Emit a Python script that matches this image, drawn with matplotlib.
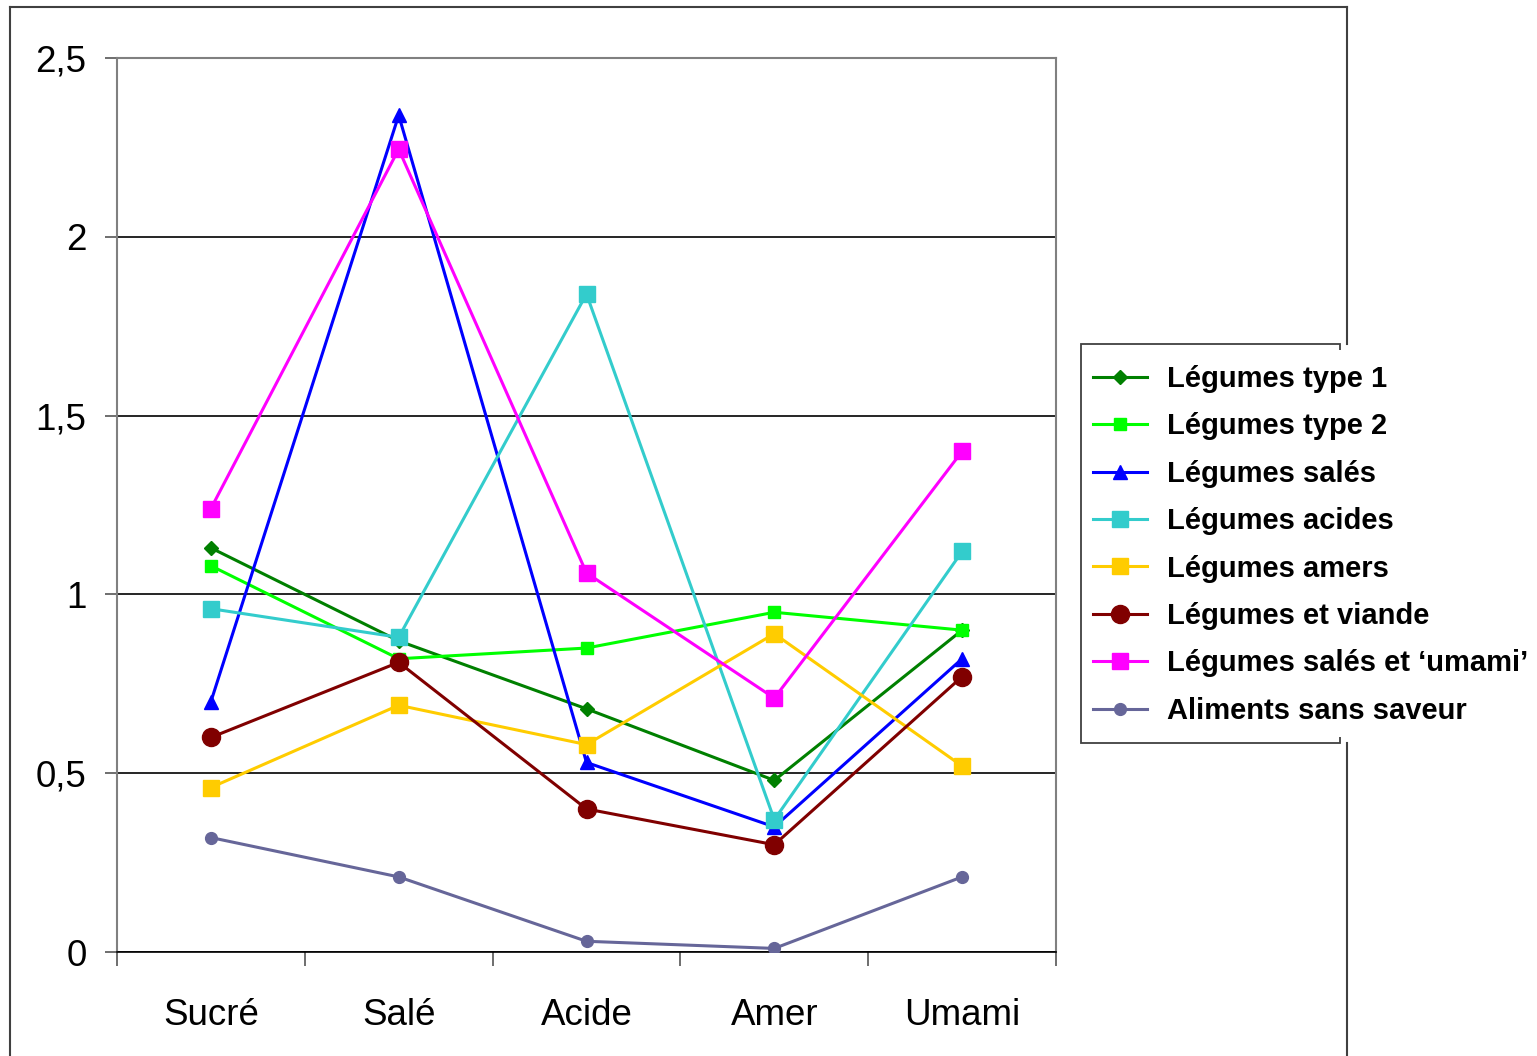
import numpy as np
import matplotlib
matplotlib.use("Agg")
import matplotlib.pyplot as plt
from matplotlib.lines import Line2D
from matplotlib.patches import Rectangle

plt.rcParams['font.family'] = ['Liberation Sans', 'DejaVu Sans']

categories = ['Sucré', 'Salé', 'Acide', 'Amer', 'Umami']

legumes_type1 = [1.13, 0.87, 0.68, 0.48, 0.90]
legumes_type2 = [1.08, 0.82, 0.85, 0.95, 0.90]
legumes_sales = [0.70, 2.34, 0.53, 0.35, 0.82]
legumes_acides = [0.96, 0.88, 1.84, 0.37, 1.12]
legumes_amers = [0.46, 0.69, 0.58, 0.89, 0.52]
legumes_viande = [0.60, 0.81, 0.40, 0.30, 0.77]
legumes_umami = [1.24, 2.245, 1.06, 0.71, 1.40]
sans_saveur = [0.32, 0.21, 0.03, 0.01, 0.21]

y_ticks = [0, 0.5, 1, 1.5, 2, 2.5]
y_ticklabels = ['0', '0,5', '1', '1,5', '2', '2,5']

series = [
    ('Légumes type 1', legumes_type1, '#008000', 'D', 7),
    ('Légumes type 2', legumes_type2, '#00FF00', 's', 8),
    ('Légumes salés', legumes_sales, '#0000FF', '^', 10),
    ('Légumes acides', legumes_acides, '#33CCCC', 's', 12),
    ('Légumes amers', legumes_amers, '#FFCC00', 's', 12),
    ('Légumes et viande', legumes_viande, '#800000', 'o', 13),
    ('Légumes salés et \u2018umami\u2019', legumes_umami, '#FF00FF', 's', 12),
    ('Aliments sans saveur', sans_saveur, '#666699', 'o', 8.5),
]

fig = plt.figure(figsize=(15.37, 10.56), dpi=100)
ax = fig.add_axes([117 / 1537, 104 / 1056, 939 / 1537, 894 / 1056])

x = np.arange(len(categories)) + 0.5
handles = []
for label, vals, color, marker, ms in series:
    h, = ax.plot(x, vals, color=color, marker=marker, markersize=ms,
                 linewidth=2.2, label=label, zorder=3)
    handles.append(h)

ax.set_xlim(0, len(categories))
ax.set_ylim(0, 2.5)
ax.set_yticks(y_ticks)
ax.set_yticklabels(y_ticklabels, fontsize=26.5)
ax.yaxis.grid(True, color='black', linewidth=1.2)
ax.set_axisbelow(True)

ax.set_xticks(np.arange(len(categories) + 1))
ax.set_xticklabels([])
ax.set_xticks(x, minor=True)
ax.set_xticklabels(categories, minor=True, fontsize=26.5)
ax.tick_params(axis='x', which='major', length=10, width=1.2, color='#555555')
ax.tick_params(axis='x', which='minor', length=0, pad=33)
ax.tick_params(axis='y', length=9, width=1.2, pad=13, color='#555555')

for side in ['top', 'right', 'left']:
    ax.spines[side].set_color('#808080')
    ax.spines[side].set_linewidth(1.5)
ax.spines['bottom'].set_color('black')
ax.spines['bottom'].set_linewidth(1.2)

# outer chart frame (right side interrupted by legend)
W, H = 1537, 1056
frame_kw = dict(color='#404040', linewidth=1.5, transform=fig.transFigure, zorder=1)
fig.add_artist(Line2D([10 / W, 10 / W], [0, 1 - 7 / H], **frame_kw))
fig.add_artist(Line2D([10 / W, 1347 / W], [1 - 7 / H, 1 - 7 / H], **frame_kw))
fig.add_artist(Line2D([1347 / W, 1347 / W], [1 - 7 / H, 1 - 344 / H], **frame_kw))
fig.add_artist(Line2D([1347 / W, 1347 / W], [1 - 743 / H, 0], **frame_kw))

# legend box, its right edge hidden behind the legend text
fig.add_artist(Rectangle((1081 / W, 1 - 743 / H), 259 / W, 399 / H,
                         transform=fig.transFigure, facecolor='white',
                         edgecolor='#404040', linewidth=1.3, zorder=2))
fig.add_artist(Rectangle((1338 / W, 1 - 737 / H), 199 / W, 387 / H,
                         transform=fig.transFigure, facecolor='white',
                         edgecolor='none', zorder=3))

leg = fig.legend(handles=handles, loc='upper left',
                 bbox_to_anchor=(1093 / W, 1 - 365 / H),
                 bbox_transform=fig.transFigure, frameon=False,
                 borderpad=0, borderaxespad=0, handlelength=1.85,
                 handletextpad=0.68, labelspacing=0.665,
                 prop={'size': 21, 'weight': 'bold'})
leg.set_zorder(5)

fig.savefig('out.png', dpi=100)
